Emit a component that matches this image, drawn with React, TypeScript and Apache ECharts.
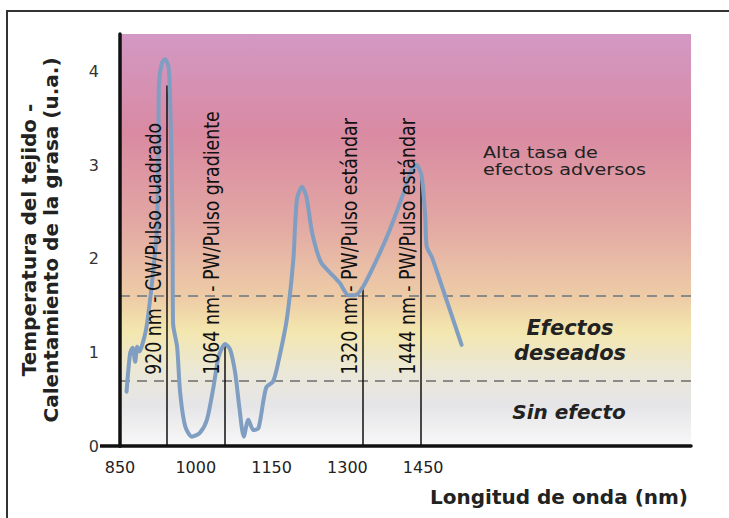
import React, { useEffect, useRef } from "react";
import * as echarts from "echarts";

// Curve (wavelength in nm, temperature in a.u.)
const wavelengthNm = [
  863, 870, 875, 880, 884, 888, 894, 903, 915, 923, 926, 927, 933, 939, 946, 949,
  952, 954, 955, 963, 969, 979, 992, 1008, 1022, 1035, 1045, 1058, 1068, 1078,
  1086, 1095, 1104, 1114, 1124, 1134, 1140, 1153, 1163, 1180, 1193, 1200, 1210,
  1219, 1229, 1239, 1249, 1266, 1285, 1302, 1315, 1331, 1358, 1384, 1411, 1427,
  1437, 1447, 1454, 1457, 1467, 1483, 1503, 1526,
];
const temperature = [
  0.58, 0.99, 1.05, 0.9, 1.06, 1.01, 1.08, 1.29, 1.83, 2.31, 3.16, 3.86, 4.09, 4.13,
  4.05, 3.73, 3.06, 2.31, 1.31, 1.06, 0.57, 0.21, 0.1, 0.14, 0.28, 0.63, 0.95, 1.09,
  1.03, 0.78, 0.42, 0.1, 0.28, 0.17, 0.19, 0.49, 0.63, 0.69, 0.89, 1.35, 1.99, 2.63,
  2.77, 2.66, 2.31, 2.09, 1.95, 1.85, 1.74, 1.61, 1.61, 1.7, 1.99, 2.31, 2.7, 2.95,
  3.0, 2.88, 2.45, 2.13, 2.02, 1.77, 1.45, 1.08,
];

// Laser markers
const markerNames = [
  "920 nm - CW/Pulso cuadrado",
  "1064 nm - PW/Pulso gradiente",
  "1320 nm - PW/Pulso estándar",
  "1444 nm - PW/Pulso estándar",
];
const markerX = [942, 1058, 1331, 1446];
const markerTop = [3.85, 1.09, 1.7, 2.88];
const markerLabelBase = 0.76;

// Zone thresholds
const thresholds = [1.6, 0.7];
const zoneTexts = ["Alta tasa de\nefectos adversos", "Efectos\ndeseados", "Sin efecto"];

// Axes
const xTicks = [850, 1000, 1150, 1300, 1450];
const yTicks = [0, 1, 2, 3, 4];
const xMin = 850;
const xMax = 1980;
const yMax = 4.4;
const yTitle = "Temperatura del tejido -\nCalentamiento de la grasa (u.a.)";
const xTitle = "Longitud de onda (nm)";

const FONT = '"DejaVu Sans", Verdana, sans-serif';

export default function App() {
  const ref = useRef<HTMLDivElement>(null);

  useEffect(() => {
    if (!ref.current) return;
    const chart = echarts.init(ref.current, null, { renderer: "svg" });
    const curve = wavelengthNm.map((x, i) => [x, temperature[i]]);

    const option: any = {
      animation: false,
      backgroundColor: "#ffffff",
      grid: { left: 120, right: 38, top: 34, bottom: 72, containLabel: false },
      xAxis: {
        type: "value",
        min: xMin,
        max: xMax,
        interval: 150,
        z: 6,
        axisLine: { show: true, lineStyle: { color: "#111", width: 3.5 } },
        axisTick: { show: false },
        splitLine: { show: false },
        axisLabel: {
          margin: 13,
          fontFamily: FONT,
          fontSize: 16,
          color: "#222",
          formatter: (v: number) => (xTicks.indexOf(v) >= 0 ? String(v) : ""),
        },
      },
      yAxis: {
        type: "value",
        min: 0,
        max: yMax,
        interval: 1,
        z: 6,
        name: yTitle,
        nameLocation: "middle",
        nameRotate: 90,
        nameGap: 58,
        nameTextStyle: {
          fontFamily: FONT,
          fontSize: 20,
          fontWeight: "bold",
          color: "#222",
          lineHeight: 22,
          align: "center",
        },
        axisLine: { show: true, lineStyle: { color: "#111", width: 3.5 } },
        axisTick: { show: false },
        splitLine: { show: false },
        axisLabel: {
          margin: 21,
          fontFamily: FONT,
          fontSize: 16,
          color: "#333",
          formatter: (v: number) => (yTicks.indexOf(v) >= 0 ? String(v) : ""),
        },
      },
      series: [
        {
          name: "zones",
          type: "line",
          data: [[xMin, 0]],
          showSymbol: false,
          lineStyle: { opacity: 0 },
          silent: true,
          z: 1,
          markArea: {
            silent: true,
            z: 1,
            itemStyle: {
              color: {
                type: "linear",
                x: 0,
                y: 0,
                x2: 0,
                y2: 1,
                colorStops: [
                  { offset: 0, color: "#d298c4" },
                  { offset: 0.24, color: "#d98aa2" },
                  { offset: 0.45, color: "#e2a6a3" },
                  { offset: 0.57, color: "#e9bfa6" },
                  { offset: 0.64, color: "#eecca6" },
                  { offset: 0.72, color: "#f3e6ae" },
                  { offset: 0.82, color: "#ebe8d7" },
                  { offset: 0.9, color: "#e5e5e7" },
                  { offset: 1, color: "#f8f8f9" },
                ],
              },
            },
            data: [[{ xAxis: xMin, yAxis: 0 }, { xAxis: xMax, yAxis: yMax }]],
          },
          markLine: {
            silent: true,
            z: 2,
            symbol: ["none", "none"],
            label: { show: false },
            lineStyle: { color: "#8a8a8a", width: 2, type: [10, 7] },
            data: thresholds.map((t) => ({ yAxis: t })),
          },
        },
        {
          name: "markers",
          type: "line",
          data: [[xMin, 0]],
          showSymbol: false,
          lineStyle: { opacity: 0 },
          silent: true,
          z: 2,
          markLine: {
            silent: true,
            z: 3,
            symbol: ["none", "none"],
            label: { show: false },
            lineStyle: { color: "#111", width: 1.5, type: "solid" },
            data: markerX.map((x, i) => [
              { coord: [x, 0] },
              { coord: [x, markerTop[i]] },
            ]),
          },
        },
        {
          name: "curve",
          type: "line",
          data: curve,
          smooth: 0.25,
          showSymbol: false,
          z: 10,
          lineStyle: { color: "#7f9ec2", width: 4, cap: "round", join: "round" },
        },
      ],
    };
    chart.setOption(option);

    const labelGraphics = markerNames.map((name, i) => {
      const p = chart.convertToPixel({ gridIndex: 0 }, [markerX[i], markerLabelBase]) as number[];
      return {
        type: "text",
        x: p[0] - 13,
        y: p[1],
        rotation: Math.PI / 2,
        scaleX: 0.79,
        z: 20,
        style: {
          text: name,
          font: `22px ${FONT}`,
          fill: "#111",
          align: "left",
          verticalAlign: "middle",
        },
      };
    });

    chart.setOption({
      graphic: [
        {
          type: "polyline",
          shape: { points: [[7, 520], [7, 11], [730, 11]] },
          style: { stroke: "#333", lineWidth: 2, fill: null },
          z: 20,
        },
        {
          type: "line",
          shape: { x1: 100, y1: 446, x2: 121, y2: 446 },
          style: { stroke: "#111", lineWidth: 3.5 },
          z: 20,
        },
        {
          type: "text",
          x: 483,
          y: 144,
          scaleX: 1.2,
          z: 20,
          style: {
            text: zoneTexts[0],
            font: `16px ${FONT}`,
            fill: "#222",
            lineHeight: 17,
            align: "left",
            verticalAlign: "top",
          },
        },
        {
          type: "text",
          x: 570,
          y: 340,
          z: 20,
          style: {
            text: zoneTexts[1],
            font: `italic bold 21px ${FONT}`,
            fill: "#222",
            lineHeight: 25,
            align: "center",
            verticalAlign: "middle",
          },
        },
        {
          type: "text",
          x: 569,
          y: 412,
          z: 20,
          style: {
            text: zoneTexts[2],
            font: `italic bold 20px ${FONT}`,
            fill: "#222",
            align: "center",
            verticalAlign: "middle",
          },
        },
        {
          type: "text",
          x: 688,
          y: 497,
          z: 20,
          style: {
            text: xTitle,
            font: `bold 20px ${FONT}`,
            fill: "#222",
            align: "right",
            verticalAlign: "middle",
          },
        },
        ...labelGraphics,
      ],
    });

    return () => chart.dispose();
  }, []);

  return (
    <div
      ref={ref}
      style={{ position: "fixed", left: 0, top: 0, width: 729, height: 518 }}
    />
  );
}
